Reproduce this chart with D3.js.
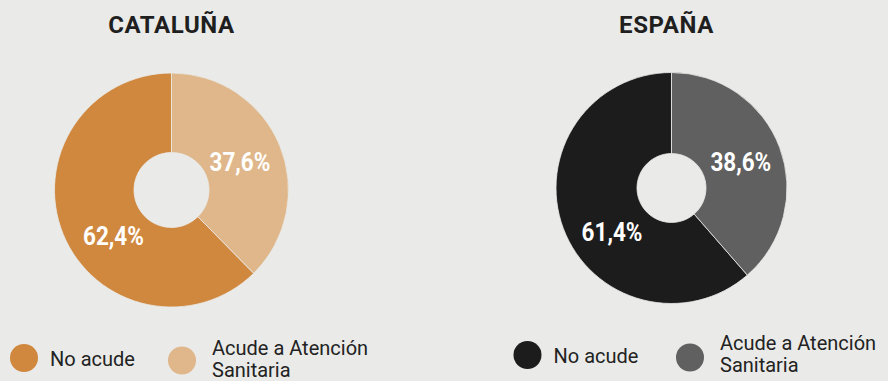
<!DOCTYPE html>
<html>
<head>
<meta charset="utf-8">
<script src="https://cdn.jsdelivr.net/npm/d3@7"></script>
<style>
	html, body { margin: 0; padding: 0; background: #eaebe9; }
	svg { display: block; }
	text { font-family: Roboto, "Noto Sans", sans-serif; }
</style>
</head>
<body>
<svg id="chart" width="888" height="381"></svg>
<script>
// data
const regions = ["CATALUÑA", "ESPAÑA"];
const categories = ["No acude", "Acude a Atención Sanitaria"];
const legendLines = [["No acude"], ["Acude a Atención", "Sanitaria"]];
const catalunaValues = [62.4, 37.6];
const espanaValues = [61.4, 38.6];

const palettes = [
	["#d0873e", "#dfb78a"],
	["#1c1c1c", "#606060"],
];

// layout per panel
const panels = [
	{ name: regions[0], values: catalunaValues, colors: palettes[0], cx: 171.5, cy: 190, r: 117, inner: 37.5, titleX: 171.5,
		legend: [{ x: 24, y: 358, ty: 366 }, { x: 182, y: 360.5, ty: 355 }] },
	{ name: regions[1], values: espanaValues, colors: palettes[1], cx: 671.5, cy: 188, r: 115.5, inner: 34.5, titleX: 666.5,
		legend: [{ x: 527.5, y: 355, ty: 363 }, { x: 690, y: 357.5, ty: 350 }] },
];

const locale = d3.formatLocale({ decimal: ",", thousands: ".", grouping: [3], currency: ["", "€"] });
const fmt = locale.format(".1f");

const svg = d3.select("#chart");

panels.forEach(p => {
	const g = svg.append("g");
	const total = d3.sum(p.values);
	// small slice starts at 12 o'clock and runs clockwise
	const start = -2 * Math.PI * p.values[0] / total;
	const pie = d3.pie().sort(null).startAngle(start).endAngle(start + 2 * Math.PI);
	const arcs = pie(p.values);
	const arc = d3.arc().innerRadius(p.inner).outerRadius(p.r);

	g.append("text")
		.attr("x", p.titleX)
		.attr("y", 33)
		.attr("text-anchor", "middle")
		.attr("font-size", 24)
		.attr("font-weight", 700)
		.attr("letter-spacing", 0.6)
		.attr("fill", "#1f1f1f")
		.text(p.name);

	const pieG = g.append("g").attr("transform", `translate(${p.cx},${p.cy})`);
	pieG.selectAll("path")
		.data(arcs)
		.join("path")
		.attr("d", arc)
		.attr("fill", (d, i) => p.colors[i])
		.attr("stroke", "#eaebe9")
		.attr("stroke-width", 0.8);

	// labels: the big slice label sits a bit off its centroid
	const labelR = 74;
	pieG.selectAll("text.val")
		.data(arcs)
		.join("text")
		.attr("class", "val")
		.attr("transform", (d, i) => {
			let a = (d.startAngle + d.endAngle) / 2;
			if (i === 0) a -= 16 * Math.PI / 180;
			const x = Math.sin(a) * labelR, y = -Math.cos(a) * labelR;
			return `translate(${x},${y}) scale(0.9,1)`;
		})
		.attr("text-anchor", "middle")
		.attr("dy", "0.36em")
		.attr("font-size", 25)
		.attr("font-weight", 700)
		.attr("fill", "#ffffff")
		.text(d => fmt(d.data) + "%");

	// legend
	const leg = g.selectAll("g.leg")
		.data(categories)
		.join("g")
		.attr("class", "leg");
	leg.append("circle")
		.attr("cx", (d, i) => p.legend[i].x)
		.attr("cy", (d, i) => p.legend[i].y)
		.attr("r", 14)
		.attr("fill", (d, i) => p.colors[i]);
	leg.append("text")
		.attr("x", (d, i) => p.legend[i].x + (i === 0 ? 26 : 30))
		.attr("y", (d, i) => p.legend[i].ty)
		.attr("font-size", 20)
		.attr("fill", "#222")
		.selectAll("tspan")
		.data((d, i) => legendLines[i].map(t => ({ t, i })))
		.join("tspan")
		.attr("x", function (d) { return +this.parentNode.getAttribute("x"); })
		.attr("dy", (d, j) => j === 0 ? 0 : 22)
		.text(d => d.t);
});
</script>
</body>
</html>
